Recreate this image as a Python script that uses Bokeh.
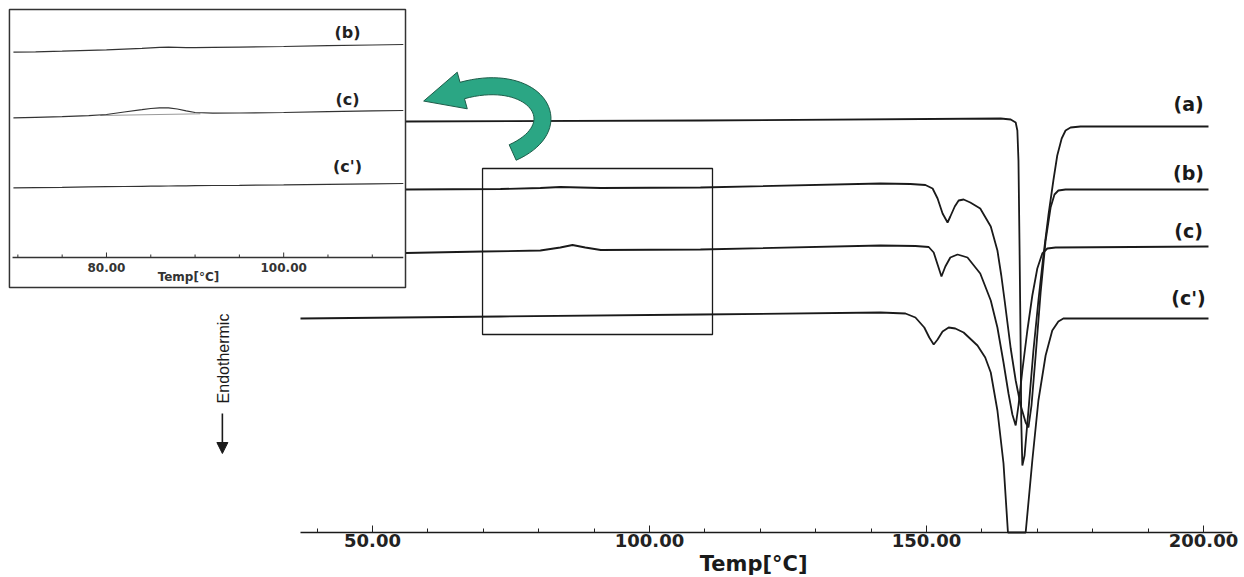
import numpy as np
from bokeh.plotting import figure
from bokeh.models import Range1d, FixedTicker, NumeralTickFormatter, Arrow, NormalHead
from bokeh.core.properties import value
from bokeh.embed import file_html
from bokeh.resources import INLINE

# ---------------- main DSC curves (Temp in degC, heat flow in arbitrary units, endo down)
a_T = [37.0, 56.0, 109.2, 163.4, 165.2, 166.1, 166.4, 166.6, 166.8, 167.0, 167.1, 167.3,
       167.7, 168.4, 169.3, 170.2, 171.1, 172.0, 172.9, 173.6, 174.4, 175.1, 176.0, 177.8, 200.9]
a_hf = [41.05, 41.1, 41.2, 41.4, 41.3, 41.0, 40.2, 37.2, 28.2, 18.2, 11.2, 6.7,
        7.7, 12.2, 18.2, 23.2, 27.7, 31.7, 35.2, 37.7, 39.4, 40.2, 40.5, 40.6, 40.6]

b_T = [37.0, 56.0, 73.1, 80.3, 83.9, 87.5, 91.2, 109.2, 141.7, 147.1, 149.8, 151.1, 152.0,
       152.9, 153.8, 154.3, 155.1, 155.8, 156.7, 157.9, 159.7, 161.6, 162.8, 163.5, 164.1,
       165.2, 166.1, 167.0, 167.9, 168.4, 168.95, 169.7, 170.6, 171.5, 172.4, 173.1, 173.8,
       175.1, 200.9]
b_hf = [34.2, 34.3, 34.35, 34.45, 34.55, 34.5, 34.45, 34.5, 34.9, 34.85, 34.75, 34.4, 33.4,
        31.9, 31.0, 31.6, 32.6, 33.2, 33.3, 33.0, 32.4, 30.6, 28.2, 25.7, 23.2,
        18.4, 15.2, 12.7, 11.0, 10.5, 12.7, 17.7, 24.0, 29.2, 32.5, 33.8, 34.2,
        34.3, 34.3]

c_T = [37.0, 56.0, 69.9, 80.3, 83.9, 86.1, 88.4, 91.2, 109.2, 141.7, 148.0, 150.4, 151.3,
       152.0, 152.7, 153.4, 154.3, 155.6, 157.4, 159.7, 161.6, 162.8, 163.9, 164.8, 165.5,
       166.1, 166.6, 167.3, 168.2, 169.1, 170.0, 170.9, 171.8, 173.3, 200.9]
c_hf = [27.9, 27.95, 28.1, 28.2, 28.5, 28.75, 28.5, 28.25, 28.3, 28.7, 28.65, 28.55, 28.0,
        26.8, 25.6, 26.6, 27.5, 27.8, 27.5, 25.9, 23.2, 20.5, 17.0, 13.9, 11.8,
        10.7, 12.7, 16.2, 20.2, 23.7, 26.4, 27.9, 28.4, 28.5, 28.6]

# (c') runs off the bottom of the plotted range: its trace ends on the axis
cp_T = [37.0, 73.1, 109.2, 141.7, 146.2, 148.0, 149.6, 150.5, 151.3, 152.0, 152.9, 154.0,
        155.2, 156.7, 159.2, 160.6, 161.6, 162.8, 163.9, 164.7, 167.9,
        169.1, 170.2, 171.5, 172.7, 173.8, 174.7, 200.9]
cp_hf = [21.4, 21.6, 21.8, 22.0, 21.9, 21.5, 20.5, 19.5, 18.8, 19.3, 20.1, 20.5,
         20.4, 20.0, 18.7, 17.5, 16.0, 12.2, 6.9, 0.0, 0.0,
         7.2, 13.2, 17.7, 20.2, 21.1, 21.4, 21.4]

curve_labels = ["(a)", "(b)", "(c)", "(c')"]
curve_label_hf = [42.9, 36.0, 30.2, 23.5]

main_ticks = [50, 100, 150, 200]
main_minor = [40, 50, 60, 70, 80, 90, 100, 110, 120, 130, 140, 150, 160, 170, 180, 190, 200]

# ---------------- inset (magnified 70-112 degC region)
in_T = [69.5, 72, 75, 78, 80, 82, 84, 85, 86, 87, 88, 89, 90, 92, 95, 100, 105, 110, 113.5]
in_b = [20.53, 20.57, 20.63, 20.72, 20.77, 20.84, 20.92, 20.97, 21.02, 21.04, 21.02, 20.99,
        20.98, 21.01, 21.04, 21.10, 21.18, 21.25, 21.30]
in_c = [13.97, 14.02, 14.08, 14.18, 14.30, 14.55, 14.78, 14.90, 14.97, 14.97, 14.85, 14.67,
        14.50, 14.43, 14.45, 14.50, 14.58, 14.66, 14.70]
in_cp = [6.97, 6.99, 7.02, 7.06, 7.08, 7.10, 7.12, 7.13, 7.14, 7.15, 7.16, 7.17, 7.18, 7.20,
         7.22, 7.26, 7.31, 7.36, 7.40]
in_c_base_T = [79.3, 90.6]
in_c_base = [14.20, 14.37]
in_labels = ["(b)", "(c)", "(c')"]
in_label_hf = [22.5, 15.8, 9.1]
in_ticks_major = [80, 100]
in_ticks_minor = [70, 75, 85, 90, 95, 105, 110]

# ---------------- figure (frame fills the whole canvas; axis is pinned at heat flow 0)
W, H = 1244, 577
X0, X1 = -17.15, 207.40
Y0, Y1 = -4.50, 53.20
p = figure(width=W, height=H, x_range=Range1d(X0, X1), y_range=Range1d(Y0, Y1),
           output_backend="svg", toolbar_location=None, y_axis_location=None,
           min_border_left=0, min_border_right=0, min_border_top=0, min_border_bottom=0)
p.outline_line_color = None
p.grid.visible = False
p.extra_x_ranges = {"ix": Range1d(68.04, 208.44)}
p.extra_y_ranges = {"iy": Range1d(-32.00, 25.70)}

ax = p.xaxis[0]
ax.fixed_location = 0
ax.ticker = FixedTicker(ticks=main_ticks, minor_ticks=main_minor)
ax.formatter = NumeralTickFormatter(format="0.00")
ax.axis_line_color = None
ax.major_tick_in = 7
ax.major_tick_out = 0
ax.minor_tick_in = 4
ax.minor_tick_out = 0
ax.major_tick_line_color = "#222222"
ax.minor_tick_line_color = "#222222"
ax.major_label_standoff = 1
ax.major_label_text_font = "DejaVu Sans"
ax.major_label_text_font_style = "bold"
ax.major_label_text_font_size = "18px"
ax.major_label_text_color = "#222222"

FONT = value("DejaVu Sans")
INK = "#1a1a1a"

# axis baseline of the main plot
p.line([37.0, 205.2], [0, 0], line_color=INK, line_width=1.5)

# main curves
for T, hf in [(a_T, a_hf), (b_T, b_hf), (c_T, c_hf), (cp_T, cp_hf)]:
    p.line(T, hf, line_color=INK, line_width=1.8)

p.text(x=[197.3] * 4, y=curve_label_hf, text=curve_labels, text_font=FONT,
       text_font_style="bold", text_font_size="19px", text_align="center",
       text_baseline="middle", text_color=INK)

# zoom rectangle on the main plot
p.quad(left=[69.86], right=[111.37], bottom=[19.8], top=[36.4],
       fill_color=None, line_color=INK, line_width=1.3)

# main x-axis title, centred under the drawn axis
p.text(x=[118.8], y=[-3.1], text=["Temp[°C]"], text_font=FONT, text_font_style="bold",
       text_font_size="21px", text_align="center", text_baseline="middle", text_color=INK)

# Endothermic indicator
p.text(x=[23.1], y=[17.4], text=["Endothermic"], angle=np.pi / 2,
       text_font=value("Liberation Sans"), text_font_size="16px",
       text_align="center", text_baseline="middle", text_color=INK)
p.add_layout(Arrow(x_start=22.9, y_start=11.9, x_end=22.9, y_end=7.9, line_width=1.6,
                   line_color=INK,
                   end=NormalHead(size=11, fill_color=INK, line_color=INK)))

# ---------------- inset panel
I = dict(x_range_name="ix", y_range_name="iy")
p.quad(left=[69.05], right=[113.75], bottom=[-3.0], top=[24.8], fill_color="white",
       line_color="#333333", line_width=1.5, **I)
p.line([69.4, 113.5], [0, 0], line_color="#333333", line_width=1.3, **I)
p.segment(x0=in_ticks_major, y0=[0] * 2, x1=in_ticks_major, y1=[0.5] * 2,
          line_color="#333333", line_width=1, **I)
p.segment(x0=in_ticks_minor, y0=[0] * len(in_ticks_minor), x1=in_ticks_minor,
          y1=[0.3] * len(in_ticks_minor), line_color="#333333", line_width=1, **I)
p.text(x=in_ticks_major, y=[-1.0] * 2, text=[f"{v:.2f}" for v in in_ticks_major],
       text_font=FONT, text_font_style="bold", text_font_size="12px", text_align="center",
       text_baseline="middle", text_color="#333333", **I)
p.text(x=[89.25], y=[-1.95], text=["Temp[°C]"], text_font=FONT, text_font_style="bold",
       text_font_size="12px", text_align="center", text_baseline="middle",
       text_color="#333333", **I)
p.line(in_c_base_T, in_c_base, line_color="#9a9a9a", line_width=1, **I)
for hf in [in_b, in_c, in_cp]:
    p.line(in_T, hf, line_color="#333333", line_width=1.2, **I)
p.text(x=[107.2] * 3, y=in_label_hf, text=in_labels, text_font=FONT, text_font_style="bold",
       text_font_size="16px", text_align="center", text_baseline="middle",
       text_color="#222222", **I)

# ---------------- curved green arrow (main-plot coordinates)
sx = W / (X1 - X0)
sy = H / (Y1 - Y0)
ctrl = np.array([[75.3, 38.0], [86.1, 40.7], [79.4, 46.2], [66.2, 44.2]]) * [sx, sy]
t = np.linspace(0, 1, 40)[:, None]
P0, P1, P2, P3 = ctrl
cen = (1 - t) ** 3 * P0 + 3 * (1 - t) ** 2 * t * P1 + 3 * (1 - t) * t ** 2 * P2 + t ** 3 * P3
der = 3 * (1 - t) ** 2 * (P1 - P0) + 6 * (1 - t) * t * (P2 - P1) + 3 * t ** 2 * (P3 - P2)
tan = der / np.linalg.norm(der, axis=1)[:, None]
nor = np.column_stack([-tan[:, 1], tan[:, 0]])
hw = 8.5
left = cen + nor * hw
right = cen - nor * hw
d_end, n_end = tan[-1], nor[-1]
head = [P3 + n_end * 19, P3 + d_end * 40, P3 - n_end * 19]
poly = np.vstack([left, head, right[::-1]])
p.patch(poly[:, 0] / sx, poly[:, 1] / sy, fill_color="#2ba684", line_color="#1d5c49",
        line_width=1)

open("out.html", "w").write(file_html(p, INLINE))
